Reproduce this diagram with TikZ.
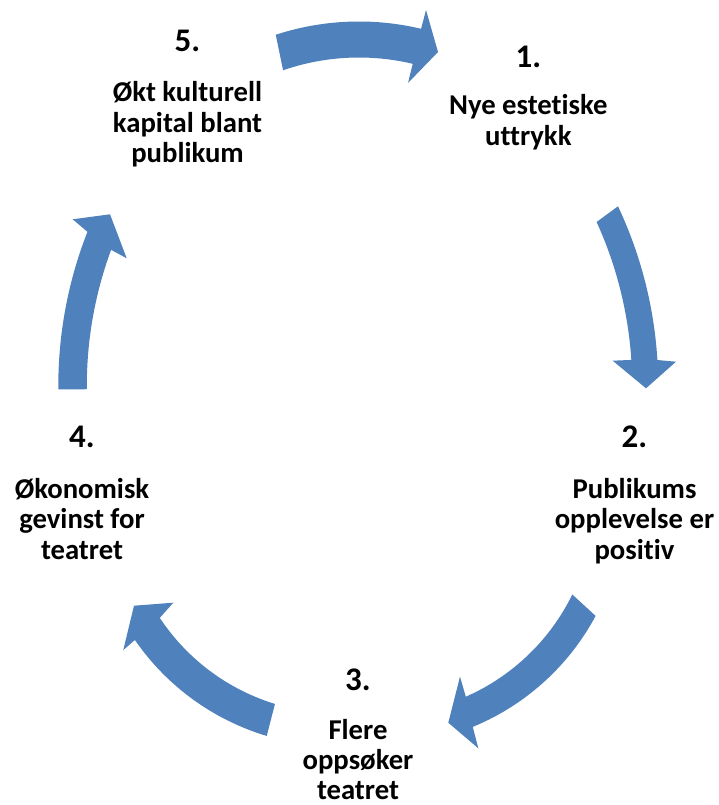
\documentclass[tikz,border=0pt]{standalone}
\usepackage{fontspec}
\setmainfont{Carlito}[Ligatures={NoCommon}]
\definecolor{arrowblue}{HTML}{4F81BD}
\begin{document}
\begin{tikzpicture}[x=1pt,y=-1pt,
  arrowbody/.style={fill=arrowblue, draw=none},
  lbl/.style={font=\fontsize{28.7}{29}\selectfont\bfseries, anchor=base, inner sep=0pt},
  numlbl/.style={font=\fontsize{33}{33}\selectfont\bfseries, anchor=base, inner sep=0pt}]
\fill[white] (0,0) rectangle (718,805);
\useasboundingbox (0,0) rectangle (718,805);

% ---- arrows ----
% 5 -> 1 (top)
\fill[arrowbody] plot[domain=-108.1:-76.6, samples=40] ({359+268*cos(\x)},{289.5+268*sin(\x)})
  -- (426,10) -- (438,52) -- (408,83)
  -- plot[domain=-76.6:-109.1, samples=40] ({359+232*cos(\x)},{289.5+232*sin(\x)}) -- cycle;
% 1 -> 2 (right)
\fill[arrowbody] plot[domain=-25.24:-3.51, samples=40] ({237.2+421*cos(\x)},{385.8+421*sin(\x)})
  -- (676,361.7) -- (646,388.3) -- (612.7,360.7)
  -- plot[domain=-3.76:-24.5, samples=40] ({237.2+395*cos(\x)},{385.8+395*sin(\x)}) -- cycle;
% 2 -> 3 (bottom right)
\fill[arrowbody] plot[domain=28.16:67.65, samples=40] ({379.6+245*cos(\x)},{500.3+245*sin(\x)})
  -- (478.3,748.3) -- (448.3,722.7) -- (460,676.7)
  -- plot[domain=66.3:26.05, samples=40] ({379.6+214.5*cos(\x)},{500.3+214.5*sin(\x)}) -- cycle;
% 3 -> 4 (bottom left)
\fill[arrowbody] plot[domain=106.7:145.4, samples=40] ({337.4+246*cos(\x)},{500.3+246*sin(\x)})
  -- (123.3,650) -- (134,605.7) -- (173.3,602.7)
  -- plot[domain=146.5:107.05, samples=40] ({337.4+213*cos(\x)},{500.3+213*sin(\x)}) -- cycle;
% 4 -> 5 (left)
\fill[arrowbody] plot[domain=179.5:201.43, samples=40] ({479.8+421.5*cos(\x)},{385.8+421.5*sin(\x)})
  -- (72.7,219.3) -- (110,214.3) -- (126.7,258.3)
  -- plot[domain=200.25:179.5, samples=40] ({479.8+393*cos(\x)},{385.8+393*sin(\x)}) -- cycle;

% ---- labels ----
\node[numlbl] (n5) at (187.5,52) {5.};
\node[lbl] (t5a) at (187.5,102) {Økt kulturell};
\node[lbl] (t5b) at (187.5,132.5) {kapital blant};
\node[lbl] (t5c) at (187.5,163) {publikum};

\node[numlbl] (n1) at (528.3,68) {1.};
\node[lbl] (t1a) at (528.3,115) {Nye estetiske};
\node[lbl] (t1b) at (528.3,145.5) {uttrykk};

\node[numlbl] (n2) at (634.5,447) {2.};
\node[lbl] (t2a) at (634.5,498) {Publikums};
\node[lbl] (t2b) at (634.5,528.5) {opplevelse er};
\node[lbl] (t2c) at (634.5,559) {positiv};

\node[numlbl] (n3) at (358,690) {3.};
\node[lbl] (t3a) at (358,739) {Flere};
\node[lbl] (t3b) at (358,769) {oppsøker};
\node[lbl] (t3c) at (358,799) {teatret};

\node[numlbl] (n4) at (82,447) {4.};
\node[lbl] (t4a) at (82,498) {Økonomisk};
\node[lbl] (t4b) at (82,528.5) {gevinst for};
\node[lbl] (t4c) at (82,559) {teatret};
\end{tikzpicture}
\end{document}
